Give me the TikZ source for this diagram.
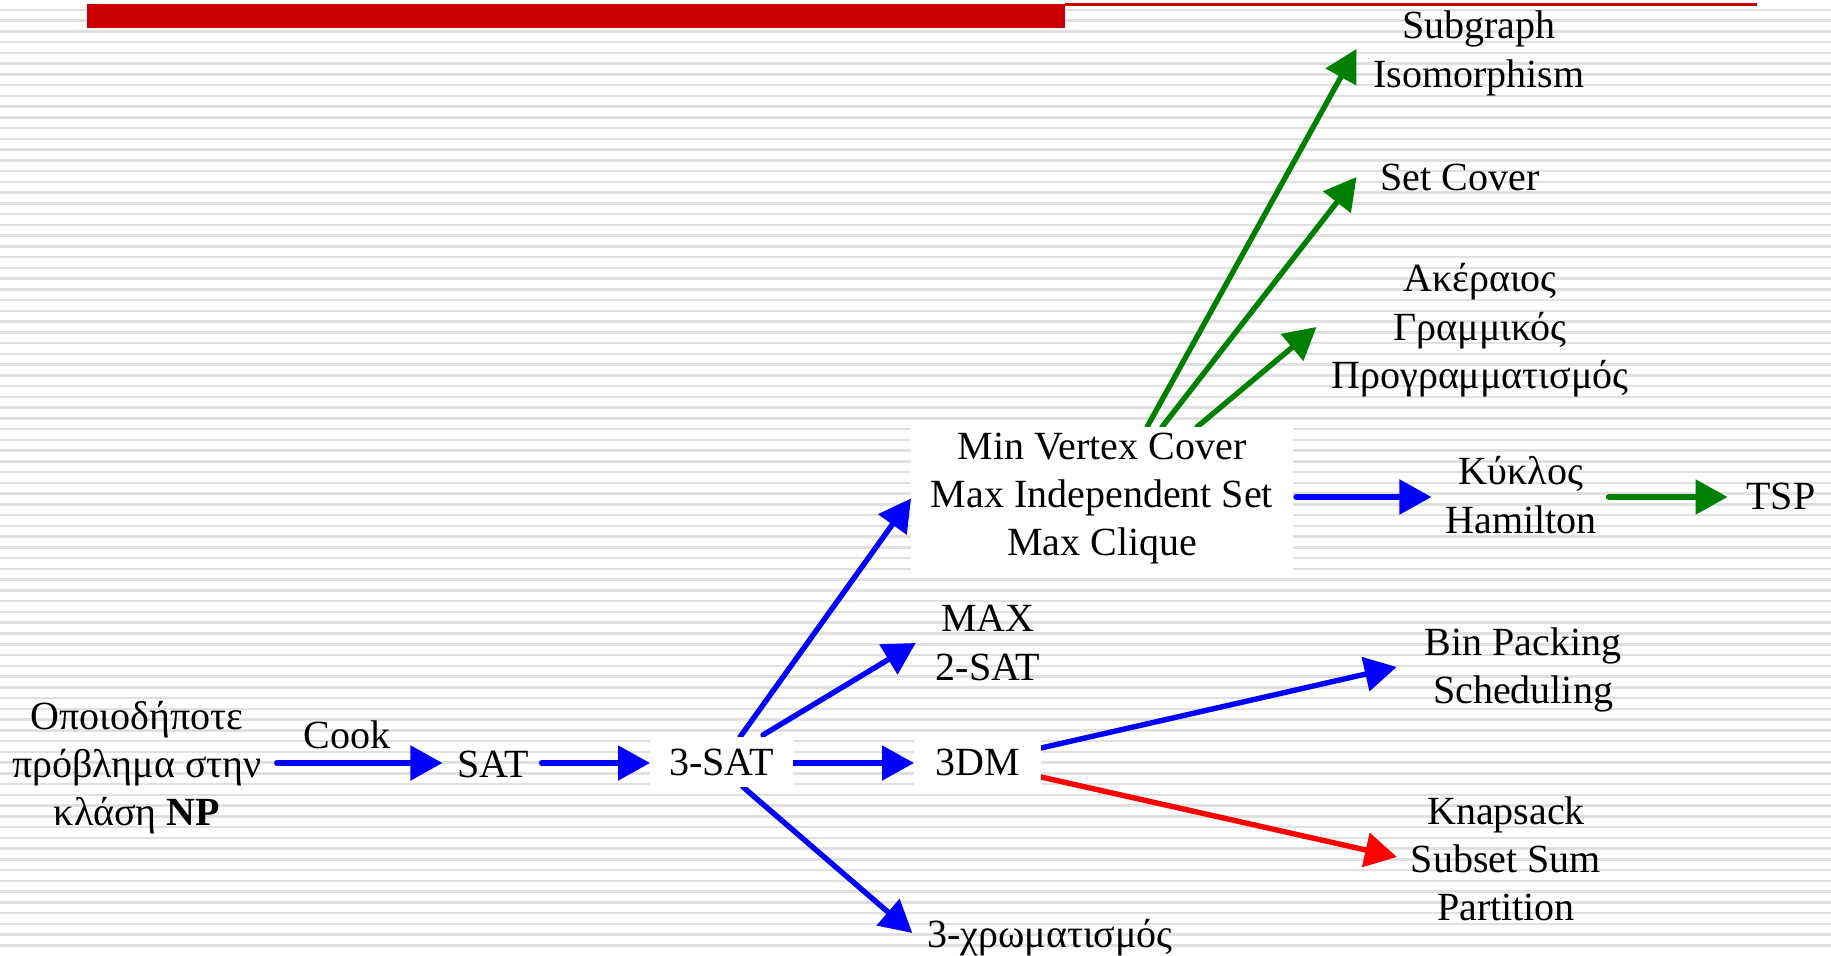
\documentclass[tikz,border=0pt]{standalone}
\usepackage{fontspec}
\setmainfont{Liberation Serif}
\usetikzlibrary{arrows.meta,calc}
\definecolor{barred}{HTML}{CC0000}
\definecolor{arrblue}{HTML}{0000FF}
\definecolor{arrgreen}{HTML}{008000}
\definecolor{arrred}{HTML}{FF0000}
\definecolor{stripegray}{HTML}{E0E0E0}
\newcommand{\stk}[1]{\vtop{\halign{\hfil##\hfil\cr#1\crcr}}}
\pgfdeclarelayer{bg}
\pgfdeclarelayer{conn}
\pgfsetlayers{bg,conn,main}
\begin{document}
\begin{tikzpicture}[x=0.5pt,y=-0.5pt,
  every node/.style={inner sep=0pt, outer sep=0pt, font=\fontsize{20}{24.15}\selectfont},
  lbl/.style={anchor=base},
  whitebox/.style={fill=white, draw=none},
  stripe/.style={draw=stripegray, line width=1.25pt},
  connector/.style={line width=2.7pt, line cap=round, -{Triangle[length=16pt,width=17pt]}},
  barrow/.style={connector, color=arrblue},
  garrow/.style={connector, color=arrgreen},
  rarrow/.style={connector, color=arrred}]
\useasboundingbox (0,0) rectangle (1831,956);
\begin{pgfonlayer}{bg}
  \fill[white] (0,0) rectangle (1831,956);
  \foreach \k in {-1,...,87} \draw[stripe] (0,{10+10.75*\k}) -- (1831,{10+10.75*\k});
  \fill[barred] (87,4) rectangle (1065,28);
  \fill[barred] (1065,3.5) rectangle (1757,6.5);
\end{pgfonlayer}
% nodes
\node[lbl] (np) at (137,729) {\stk{Οποιοδήποτε\cr πρόβλημα στην\cr κλάση \textbf{NP}}};
\node[lbl] (cook) at (347,748) {Cook};
\node[lbl] (sat) at (493,777) {SAT};
\node[whitebox, minimum width=71.5pt, minimum height=25pt] (sat3) at (721.5,762) {3-SAT};
\node[whitebox, minimum width=63.5pt, minimum height=25pt] (dm3) at (977.5,762) {3DM};
\node[whitebox, minimum width=191pt, minimum height=71.5pt] (mvc) at (1102,498.5) {\stk{Min Vertex Cover\cr Max Independent Set\cr Max Clique}};
\node[lbl] (max2sat) at (988,632) {\stk{MAX\cr 2-SAT}};
\node[lbl] (chrom) at (1050,947) {3-χρωματισμός};
\node[lbl] (ham) at (1521,485) {\stk{Κύκλος\cr Hamilton}};
\node[lbl] (tsp) at (1781,510) {TSP};
\node[lbl] (sub) at (1479,39) {\stk{Subgraph\cr Isomorphism}};
\node[lbl] (setc) at (1460,191) {Set Cover};
\node[lbl] (ilp) at (1480,292) {\stk{Ακέραιος\cr Γραμμικός\cr Προγραμματισμός}};
\node[lbl] (bin) at (1523,655) {\stk{Bin Packing\cr Scheduling}};
\node[lbl] (knap) at (1506,824) {\stk{Knapsack\cr Subset Sum\cr Partition}};
% connectors
\begin{pgfonlayer}{conn}
  \draw[barrow] ($(np.east |- sat3.west)+(15,1)$) -- ($(sat.west |- sat3.west)+(-15,1)$);
  \draw[barrow] ($(sat.east |- sat3.west)+(13,1)$) -- ($(sat3.west)+(0,1)$);
  \draw[barrow] ($(sat3.east)+(0,1)$) -- ($(dm3.west)+(0,1)$);
  \draw[barrow] ($(sat3.north)+(18.5,0)$) -- (mvc.west);
  \draw[barrow] ($(sat3.north)+(41.5,-2)$) -- ($(max2sat.west |- mvc.south)+(-20,73)$);
  \draw[barrow] ($(sat3.south)+(21.5,0)$) -- ($(chrom.west |- sat3.south)+(-15,146)$);
  \draw[barrow] ($(mvc.east)+(3,-1.5)$) -- ($(ham.west |- mvc.east)+(-14,-1.5)$);
  \draw[garrow] ($(ham.east |- mvc.east)+(12,-1.5)$) -- ($(tsp.west |- mvc.east)+(-19,-1.5)$);
  \draw[barrow] ($(dm3.east)+(0,-14)$) -- ($(bin.west |- dm3.east)+(-28,-95)$);
  \draw[rarrow] ($(dm3.east)+(0,15)$) -- ($(knap.west |- dm3.east)+(-14,95)$);
  \draw[garrow] ($(mvc.north)+(45,0)$) -- ($(sub.west |- mvc.north)+(-17,-378)$);
  \draw[garrow] ($(mvc.north)+(60,0)$) -- ($(setc.west |- mvc.north)+(-24,-250)$);
  \draw[garrow] ($(mvc.north)+(95,0)$) -- ($(ilp.west |- mvc.north)+(-15,-100)$);
\end{pgfonlayer}
\end{tikzpicture}
\end{document}
